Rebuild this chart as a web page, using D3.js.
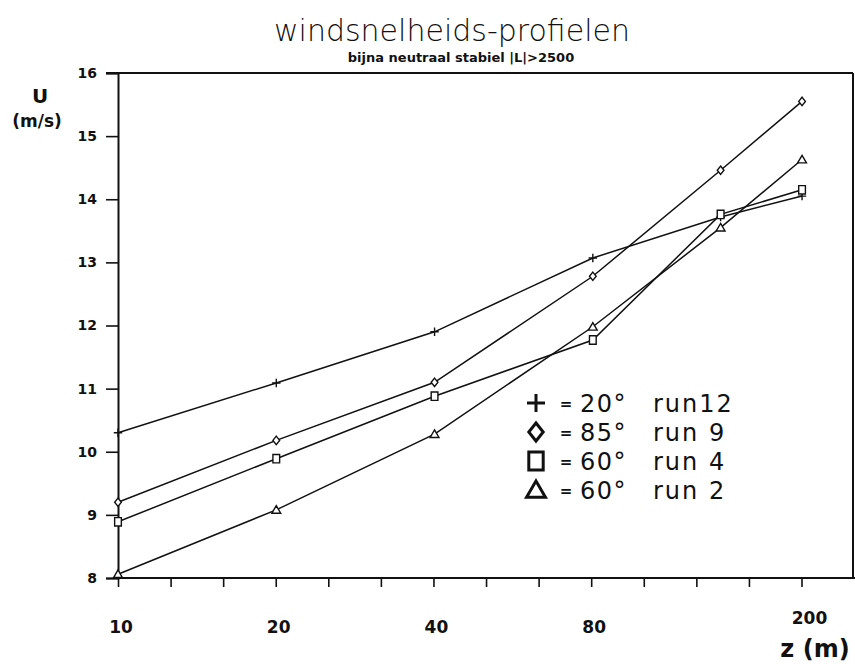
<!DOCTYPE html>
<html>
<head>
<meta charset="utf-8">
<script src="https://cdn.jsdelivr.net/npm/d3@7"></script>
<style>
  html, body { margin: 0; padding: 0; background: #fff; }
  svg { display: block; }
</style>
</head>
<body>
<svg id="chart" width="855" height="664"></svg>
<script>
// Measurement heights (m) and wind speeds U (m/s) per run
const heights = [10, 20, 40, 80, 140, 200];
const run12 = [10.30, 11.09, 11.90, 13.07, 13.72, 14.05];
const run9  = [9.20, 10.18, 11.10, 12.78, 14.46, 15.55];
const run4  = [8.89, 9.89, 10.88, 11.77, 13.76, 14.15];
const run2  = [8.06, 9.08, 10.28, 11.98, 13.55, 14.63];

const seriesNames  = ["run12", "run 9", "run 4", "run 2"];
const seriesAngles = ["20°", "85°", "60°", "60°"];
const seriesSymbols = ["plus", "diamond", "square", "triangle"];
const seriesValues = [run12, run9, run4, run2];

const yTicks = [8, 9, 10, 11, 12, 13, 14, 15, 16];
const xTickExponents = [0, 1, 2, 3, 4, 5, 6, 7, 8, 9, 10, 11, 12, 13];   // tenths of a decade above 10
const xLabels = ["10", "20", "40", "80", "200"];
const xLabelAt = [10, 19.95, 39.81, 79.43, 199.5];

const titleText = "windsnelheids-profielen";
const subtitleText = "bijna neutraal stabiel |L|>2500";

const svg = d3.select("#chart");
const plotLeft = 118, plotRight = 853, plotTop = 73, plotBottom = 578;

const x = d3.scaleLog().domain([10, 250]).range([plotLeft, plotRight]);
const y = d3.scaleLinear().domain([8, 16]).range([plotBottom, plotTop]);

const ink = "#111";

// marker outlines
function markerPath(type, s) {
  const p = d3.path();
  if (type === "plus") {
    p.moveTo(-s, 0); p.lineTo(s, 0);
    p.moveTo(0, -s); p.lineTo(0, s);
  } else if (type === "diamond") {
    p.moveTo(0, -s); p.lineTo(s * 0.8, 0); p.lineTo(0, s); p.lineTo(-s * 0.8, 0); p.closePath();
  } else if (type === "square") {
    p.rect(-s * 0.8, -s, s * 1.6, s * 2);
  } else {
    p.moveTo(0, -s); p.lineTo(s * 1.05, s * 0.8); p.lineTo(-s * 1.05, s * 0.8); p.closePath();
  }
  return p.toString();
}

// Title block
svg.append("text")
  .attr("x", 452).attr("y", 41)
  .attr("text-anchor", "middle")
  .attr("font-family", "DejaVu Sans")
  .attr("font-weight", 200)
  .attr("font-size", 30)
  .attr("fill", ink)
  .text(titleText);

svg.append("text")
  .attr("x", 461).attr("y", 62)
  .attr("text-anchor", "middle")
  .attr("font-family", "DejaVu Sans")
  .attr("font-weight", "bold")
  .attr("font-size", 13)
  .attr("fill", ink)
  .text(subtitleText);

// Frame: top and right edges
svg.append("line")
  .attr("x1", plotLeft - 12).attr("x2", plotRight).attr("y1", y(16)).attr("y2", y(16))
  .attr("stroke", ink).attr("stroke-width", 2);
svg.append("line")
  .attr("x1", plotRight).attr("x2", plotRight).attr("y1", y(16)).attr("y2", y(8))
  .attr("stroke", ink).attr("stroke-width", 2);

// Y axis
const yAxis = svg.append("g")
  .attr("transform", `translate(${plotLeft},0)`)
  .call(d3.axisLeft(y).tickValues(yTicks).tickSize(12).tickPadding(9).tickFormat(d3.format("d")));
yAxis.select(".domain").attr("stroke", ink).attr("stroke-width", 2);
yAxis.selectAll(".tick line").attr("stroke", ink).attr("stroke-width", 1.6);
yAxis.selectAll(".tick text")
  .attr("font-family", "DejaVu Sans").attr("font-weight", "bold")
  .attr("font-size", 14).attr("fill", ink);

// X axis: tick marks every tenth of a decade
const xTickValues = xTickExponents.map(k => Math.pow(10, 1 + k / 10));
const xAxis = svg.append("g")
  .attr("transform", `translate(0,${plotBottom})`)
  .call(d3.axisBottom(x).tickValues(xTickValues).tickSize(9).tickFormat(""));
xAxis.select(".domain").attr("stroke", ink).attr("stroke-width", 2)
  .attr("d", `M${plotLeft},0H855`);
xAxis.selectAll(".tick line").attr("stroke", ink).attr("stroke-width", 1.6);

svg.append("g").selectAll("text")
  .data(xLabels)
  .join("text")
  .attr("x", (d, i) => x(xLabelAt[i]) + (i === 4 ? 8 : 3))
  .attr("y", (d, i) => i === 4 ? 624 : 633)
  .attr("text-anchor", "middle")
  .attr("font-family", "DejaVu Sans")
  .attr("font-weight", "bold")
  .attr("font-size", 17)
  .attr("fill", ink)
  .text(d => d);

// Axis titles
svg.append("text")
  .attr("x", 815).attr("y", 657)
  .attr("text-anchor", "middle")
  .attr("font-family", "DejaVu Sans")
  .attr("font-weight", "bold")
  .attr("font-size", 24)
  .attr("fill", ink)
  .text("z (m)");

svg.append("text")
  .attr("x", 40).attr("y", 103)
  .attr("text-anchor", "middle")
  .attr("font-family", "DejaVu Sans")
  .attr("font-weight", "bold")
  .attr("font-size", 20)
  .attr("fill", ink)
  .text("U");
svg.append("text")
  .attr("x", 37).attr("y", 127)
  .attr("text-anchor", "middle")
  .attr("font-family", "DejaVu Sans")
  .attr("font-weight", "bold")
  .attr("font-size", 17)
  .attr("fill", ink)
  .text("(m/s)");

// Profile lines
const line = d3.line()
  .x((d, i) => x(heights[i]))
  .y(d => y(d));

const plot = svg.append("g");
seriesValues.forEach((vals, si) => {
  plot.append("path")
    .datum(vals)
    .attr("d", line)
    .attr("fill", "none")
    .attr("stroke", ink)
    .attr("stroke-width", 1.5);

  plot.append("g").selectAll("path")
    .data(vals)
    .join("path")
    .attr("transform", (d, i) => `translate(${x(heights[i])},${y(d)})`)
    .attr("d", markerPath(seriesSymbols[si], 4.2))
    .attr("fill", seriesSymbols[si] === "plus" ? "none" : "#fff")
    .attr("stroke", ink)
    .attr("stroke-width", 1.4);
});

// Legend
const legendRows = [403, 432, 461, 490];
const legend = svg.append("g");
seriesNames.forEach((name, i) => {
  const ry = legendRows[i];
  legend.append("path")
    .attr("transform", `translate(536,${ry})`)
    .attr("d", markerPath(seriesSymbols[i], 9))
    .attr("fill", "none")
    .attr("stroke", ink)
    .attr("stroke-width", 3);
  legend.append("text")
    .attr("x", 566).attr("y", ry + 6)
    .attr("text-anchor", "middle")
    .attr("font-family", "DejaVu Sans")
    .attr("font-weight", "bold")
    .attr("font-size", 15)
    .attr("fill", ink)
    .text("=");
  legend.append("text")
    .attr("x", 580).attr("y", ry + 9)
    .attr("font-family", "DejaVu Sans")
    .attr("font-size", 24)
    .attr("letter-spacing", 1.5)
    .attr("fill", ink)
    .text(seriesAngles[i]);
  legend.append("text")
    .attr("x", 653).attr("y", ry + 9)
    .attr("font-family", "DejaVu Sans")
    .attr("font-size", 24)
    .attr("letter-spacing", 2)
    .attr("fill", ink)
    .text(name);
});
</script>
</body>
</html>
